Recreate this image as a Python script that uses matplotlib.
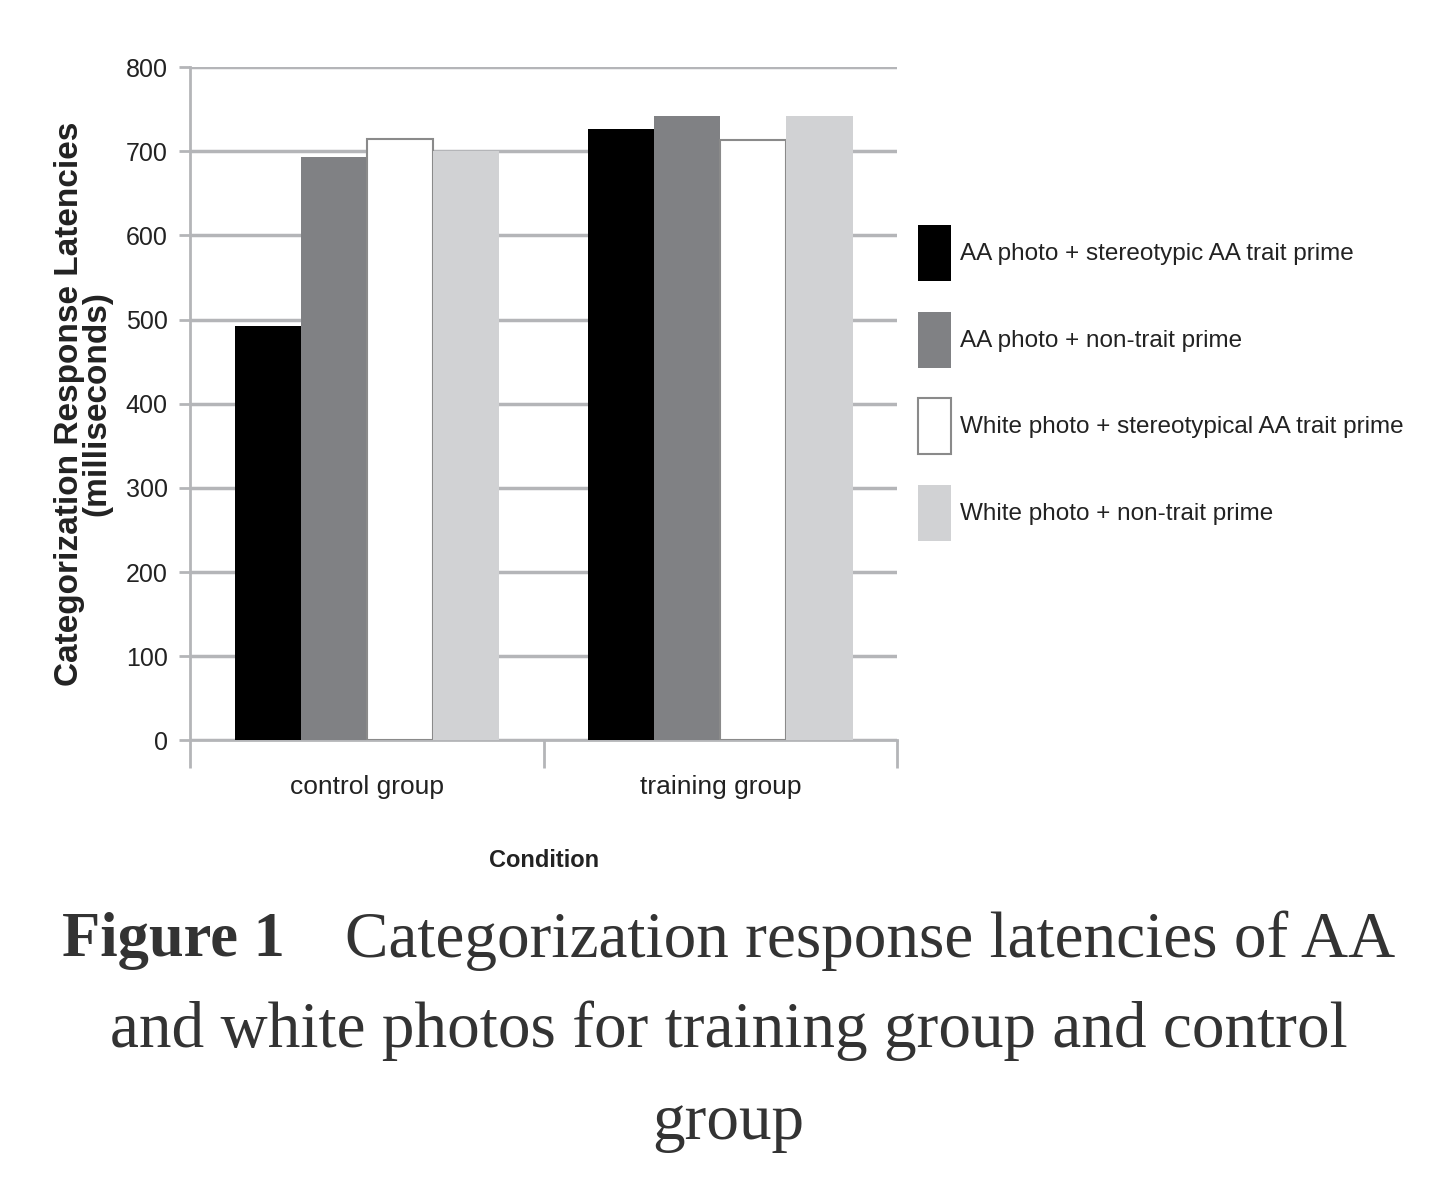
import numpy as np
import matplotlib
matplotlib.use('Agg')
import matplotlib.pyplot as plt

groups = ['control group', 'training group']
series = ['AA photo + stereotypic AA trait prime',
          'AA photo + non-trait prime',
          'White photo + stereotypical AA trait prime',
          'White photo + non-trait prime']
values = [[493, 727],
          [693, 742],
          [715, 714],
          [701, 742]]
colors = ['#000000', '#808184', '#ffffff', '#d1d2d4']
edges = ['#000000', '#808184', '#8a8a8a', '#d1d2d4']

sans = ['Liberation Sans', 'DejaVu Sans']
serif = ['Liberation Serif', 'DejaVu Serif']
txt = '#222222'

fig = plt.figure(figsize=(14.4, 12), dpi=100)
ax = fig.add_axes([0.132, 0.383, 0.491, 0.561])

x = np.arange(len(groups))
w = 0.187
for i, (name, vals) in enumerate(zip(series, values)):
    ax.bar(x + (i - 1.5) * w, vals, w, color=colors[i], edgecolor=edges[i],
           linewidth=1.5 if i == 2 else 0, label=name, zorder=3)

ax.set_xlim(-0.5, 1.5)
ax.set_ylim(0, 800)
ax.set_yticks(range(0, 801, 100))
ax.yaxis.grid(True, color='#b4b5b8', linewidth=2.5, zorder=0)
for s in ['top', 'right']:
    ax.spines[s].set_visible(False)
for s in ['left', 'bottom']:
    ax.spines[s].set_color('#b4b5b8')
    ax.spines[s].set_linewidth(2)

# category boundaries get the tick marks, labels sit in between
ax.set_xticks([-0.5, 0.5, 1.5])
ax.set_xticklabels([])
ax.set_xticks(x, minor=True)
ax.set_xticklabels(groups, minor=True, fontsize=19, family=sans, color=txt)
ax.tick_params(axis='x', which='major', length=20, width=2, color='#b4b5b8')
ax.tick_params(axis='x', which='minor', length=0, pad=25)
ax.tick_params(axis='y', length=8, width=2, color='#b4b5b8', pad=8)
for t in ax.get_yticklabels():
    t.set_family(sans)
    t.set_fontsize(18)
    t.set_color(txt)

ax.set_xlabel('Condition', fontsize=17, family=sans, fontweight='bold',
              labelpad=36, color=txt)
ax.set_ylabel('Categorization Response Latencies\n(milliseconds)', fontsize=24,
              family=sans, fontweight='bold', linespacing=0.85, labelpad=10,
              color=txt)

leg = ax.legend(loc='upper left', bbox_to_anchor=(1.0297, 0.765), frameon=False,
                prop={'family': sans, 'size': 17.5}, handlelength=1.36,
                handleheight=3.17, labelspacing=1.25, handletextpad=0.37,
                borderaxespad=0, borderpad=0)
for t in leg.get_texts():
    t.set_color(txt)

cap = '#333333'
fig.text(0.043, 0.2158, 'Figure 1', fontsize=45, family=serif,
         fontweight='bold', color=cap, va='center')
fig.text(0.2396, 0.2158, 'Categorization response latencies of AA', fontsize=47,
         family=serif, color=cap, va='center')
fig.text(0.506, 0.1408, 'and white photos for training group and control',
         fontsize=47, family=serif, color=cap, va='center', ha='center')
fig.text(0.506, 0.0638, 'group', fontsize=47, family=serif, color=cap,
         va='center', ha='center')

fig.savefig('out.png', dpi=100)
